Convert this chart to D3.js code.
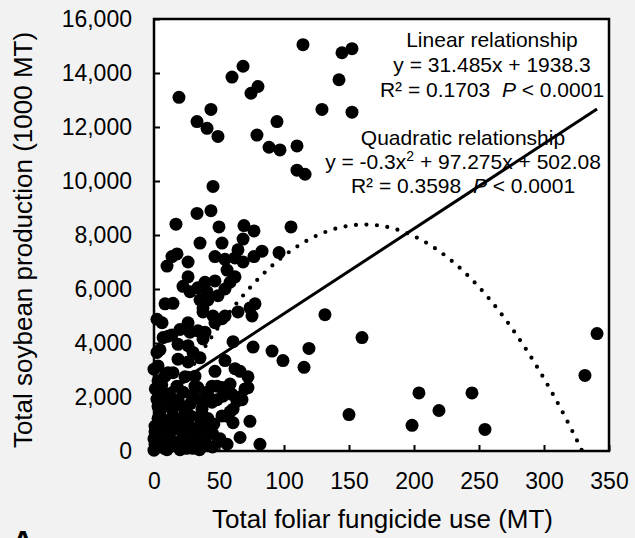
<!DOCTYPE html>
<html>
<head>
<meta charset="utf-8">
<script src="https://cdn.jsdelivr.net/npm/d3@7"></script>
<style>
body { margin: 0; background: #f2f2f2; }
svg { display: block; }
text { font-family: "Liberation Sans", Arial, sans-serif; fill: #000; }
</style>
</head>
<body>
<svg id="chart"></svg>
<script>

// total foliar fungicide use (MT) / total soybean production (1000 MT)
var fungicide = [19.2,60,68.5,80,74.6,43.8,33.1,40.8,49.2,94.6,79.2,88.5,96.9,110,110,116.2,114.6,144.6,152.3,142.3,129.2,152.3,
  45.4,33.1,43.8,16.9,50,69.2,76.9,105.4,35.4,52.3,68.5,68.5,96.2,83.1,76.9,64.6,62.3,17.7,13.8,10,26.2,46.9,54.6,56.2,62.3,58.5,54.6,
  26.2,22.3,33.8,39.2,40.8,46.9,49.2,35.4,41.5,27.7,8.5,14.6,6.2,26.2,37.7,37.7,45.4,54.6,64.6,75.4,77.7,73.8,
  13.8,18.5,27.7,39.2,37.7,46.9,52.3,60.8,76.2,4.6,26.2,30,35.4,26.2,18.5,3.1,3.1,10.8,46.9,54.6,62.3,23.8,31.5,33.8,17.7,44.6,52.3,
  60,63.8,72.3,70,67.7,41.5,48.5,8.5,18.5,29.2,3.1,13.8,23.8,36.9,41.5,52.3,58.5,60.8,73.8,3.1,13.8,26.2,0.8,10.8,21.5,31.5,41.5,
  39.2,49.2,56.2,66.2,81.5,0.8,8.5,18.5,29.2,0.5,6.2,10,0,20,30,40.8,50.8,
  131.5,160,340.8,331.5,90.8,99.2,119.2,115.4,72.3,66.2,150,198.5,203.8,219.2,244.6,254.6,
  2.3,2.3,0,2.3,0,20,33.8,10.8,8.5,14.6,31.5,58.5,48.5,40.8,44.6,22.3,6.9,12.3,53,60.8,56.2,66.2,4.6,14.6,35.4,40.8,
  0.8,10,20,30,0.8,10,22.3,33.1,
  4.6,12,20,28,36,4.6,12,20,28,36,46,4.6,15,25,35,45,4,15,25,35,45,8,25,35,1,6,7];
var production = [13100,13850,14250,13500,13250,12650,12200,11950,11650,12200,11700,11250,11150,11300,10400,10250,15050,14750,14900,13750,12650,12550,
  9800,8800,8900,8400,8300,8350,8150,8300,7700,7700,7850,7000,7350,7400,7200,7450,7150,7300,7200,6850,7000,7200,7100,6700,6450,6250,6000,
  6450,6100,6050,6250,5900,6300,5750,5600,5600,5900,5450,5470,4750,4750,5300,5150,5000,5000,5150,5000,5450,5300,
  4300,3950,4400,4400,4150,4750,4900,4050,3850,3750,3900,3650,3450,3300,3400,3150,2600,2900,2950,3350,3050,2750,2770,2350,2400,2400,2350,
  2100,1850,2750,2300,1900,2050,1900,2050,1900,2050,1650,1550,1500,1550,1200,1300,1450,1050,1100,1200,1050,1050,700,550,700,650,700,
  350,350,250,500,250,250,200,200,200,500,900,50,30,50,100,200,450,
  5050,4200,4350,2800,3700,3350,3800,3100,2350,2950,1350,950,2150,1500,2150,800,
  4880,3650,3030,1920,440,4500,4450,4250,2770,2900,2400,2480,2400,2180,1810,2180,2180,1810,2030,1550,1290,2000,1550,1290,1290,1070,
  920,810,920,810,440,330,440,330,
  1900,2100,1700,1750,1900,1350,1150,1200,1300,1050,1000,750,800,850,900,650,300,350,400,450,150,100,100,50,2300,2450,4200];

var xTicks = [0,50,100,150,200,250,300,350];
var yTicks = [0,2000,4000,6000,8000,10000,12000,14000,16000];

// fitted trendlines as printed on the chart
var linCoef = [31.485, 1938.3];
var quadCoef = [-0.3, 97.275, 502.08];

var width = 635, height = 538;

var svg = d3.select("#chart").attr("width", width).attr("height", height);

var x = d3.scaleLinear().domain([0, 350]).range([154, 609]);
var y = d3.scaleLinear().domain([0, 16000]).range([451, 19]);

svg.append("defs").append("clipPath").attr("id", "plot")
  .append("rect").attr("x", x(0)).attr("y", y(16000))
  .attr("width", x(350) - x(0)).attr("height", y(0) - y(16000));

// plot area
svg.append("rect")
  .attr("x", x(0)).attr("y", y(16000))
  .attr("width", x(350) - x(0)).attr("height", y(0) - y(16000))
  .attr("fill", "#fff");

var xAxis = svg.append("g")
  .attr("transform", "translate(0," + y(0) + ")")
  .call(d3.axisBottom(x).tickValues(xTicks).tickSizeInner(-6).tickSizeOuter(0).tickPadding(22));
var yAxis = svg.append("g")
  .attr("transform", "translate(" + x(0) + ",0)")
  .call(d3.axisLeft(y).tickValues(yTicks).tickFormat(d3.format(",")).tickSizeInner(-6).tickSizeOuter(0).tickPadding(22));

[xAxis, yAxis].forEach(function(a) {
  a.select(".domain").remove();
  a.selectAll("line").attr("stroke", "#000").attr("stroke-width", 2);
  a.selectAll("text").style("font-size", "23px").style("font-family", "'Liberation Sans', Arial, sans-serif").attr("fill", "#000");
});

svg.append("rect")
  .attr("x", x(0)).attr("y", y(16000))
  .attr("width", x(350) - x(0)).attr("height", y(0) - y(16000))
  .attr("fill", "none").attr("stroke", "#000").attr("stroke-width", 2.5);

// points
svg.append("g").selectAll("circle")
  .data(fungicide)
  .enter().append("circle")
  .attr("cx", function(d) { return x(d); })
  .attr("cy", function(d, i) { return y(production[i]); })
  .attr("r", 6.5)
  .attr("fill", "#000");

var xr = d3.extent(fungicide);
var samples = d3.range(xr[0], xr[1] + 0.01, 1);

var line = d3.line()
  .x(function(d) { return x(d[0]); })
  .y(function(d) { return y(d[1]); });

svg.append("path")
  .attr("clip-path", "url(#plot)")
  .attr("d", line(samples.map(function(v) { return [v, quadCoef[0]*v*v + quadCoef[1]*v + quadCoef[2]]; })))
  .attr("fill", "none").attr("stroke", "#000")
  .attr("stroke-width", 4.2).attr("stroke-linecap", "round")
  .attr("stroke-dasharray", "0 10.5");

svg.append("path")
  .attr("d", line(xr.map(function(v) { return [v, linCoef[0]*v + linCoef[1]]; })))
  .attr("fill", "none").attr("stroke", "#000").attr("stroke-width", 3);

// annotations
var ann = svg.append("g").style("font-size", "21px").attr("text-anchor", "middle");
ann.append("text").attr("x", 492).attr("y", 47).text("Linear relationship");
ann.append("text").attr("x", 492).attr("y", 72).text("y = 31.485x + 1938.3");
var t = ann.append("text").attr("x", 492).attr("y", 97).style("white-space", "pre");
t.append("tspan").text("R² = 0.1703  ");
t.append("tspan").style("font-style", "italic").text("P");
t.append("tspan").text(" < 0.0001");

ann.append("text").attr("x", 463).attr("y", 145).text("Quadratic relationship");
var q = ann.append("text").attr("x", 463).attr("y", 169);
q.append("tspan").text("y = -0.3x");
q.append("tspan").attr("dy", -8).style("font-size", "14px").text("2");
q.append("tspan").attr("dy", 8).text(" + 97.275x + 502.08");
var r = ann.append("text").attr("x", 463).attr("y", 193).style("white-space", "pre");
r.append("tspan").text("R² = 0.3598  ");
r.append("tspan").style("font-style", "italic").text("P");
r.append("tspan").text(" < 0.0001");

// axis titles
svg.append("text")
  .attr("x", (x(0) + x(350)) / 2 + 1).attr("y", 528)
  .attr("text-anchor", "middle").style("font-size", "26px")
  .text("Total foliar fungicide use (MT)");

svg.append("text")
  .attr("transform", "translate(32," + 240 + ") rotate(-90)")
  .attr("text-anchor", "middle").style("font-size", "26px")
  .text("Total soybean production (1000 MT)");

svg.append("text")
  .attr("x", 12).attr("y", 551)
  .style("font-size", "30px").style("font-weight", "bold")
  .text("A");
</script>
</body>
</html>
